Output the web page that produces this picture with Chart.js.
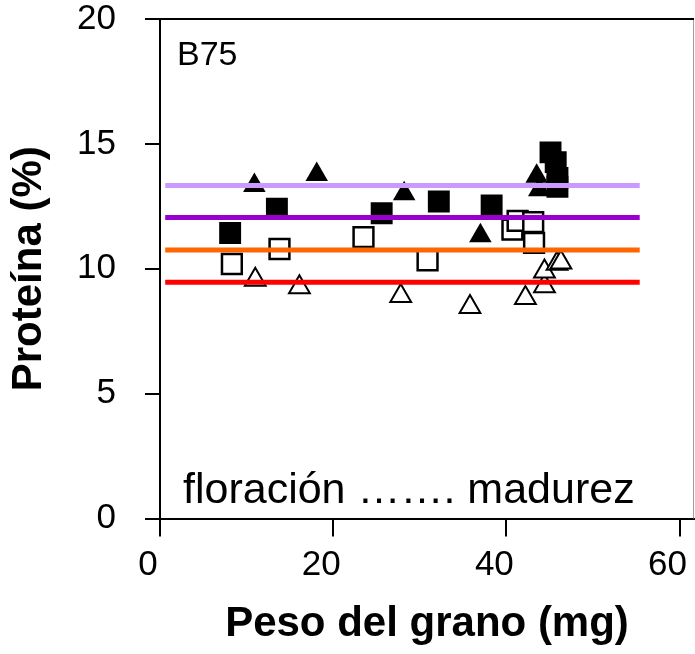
<!DOCTYPE html>
<html>
<head>
<meta charset="utf-8">
<script src="https://cdn.jsdelivr.net/npm/chart.js@4/dist/chart.umd.min.js"></script>
<style>
  html, body { margin: 0; padding: 0; background: #fff; overflow: hidden; }
  canvas { display: block; }
</style>
</head>
<body>
<canvas id="proteinChart" width="695" height="654"></canvas>
<script>
// mean protein levels (horizontal lines) and their x span
const lineLevels = [13.33, 12.05, 10.75, 9.46];
const lineColors = ["#cc99ff", "#9900cc", "#ff6600", "#ff0000"];
const lineSpan = [0.6, 55.4];

// filled squares
const filledSquareX = [8.1, 13.5, 25.6, 32.2, 38.3, 45.1, 45.7, 45.9, 45.9];
const filledSquareY = [11.43, 12.4, 12.22, 12.69, 12.53, 14.66, 14.27, 13.64, 13.28];

// filled triangles
const filledTriX = [10.9, 18.1, 28.2, 37.0, 43.5, 43.8];
const filledTriY = [13.33, 13.77, 13.0, 11.32, 13.7, 13.16];

// open squares
const openSquareX = [8.3, 13.8, 23.5, 30.9, 40.7, 41.3, 43.1, 43.2];
const openSquareY = [10.19, 10.79, 11.27, 10.34, 11.57, 11.92, 11.87, 11.04];

// open triangles
const openTriX = [11.0, 16.1, 27.8, 35.8, 42.2, 44.4, 44.4, 45.85, 46.3];
const openTriY = [9.56, 9.26, 8.91, 8.47, 8.83, 9.3, 9.89, 10.2, 10.25];

const xTicks = [0, 20, 40, 60];
const yTicks = [0, 5, 10, 15, 20];

const FONT = "'Liberation Sans', Arial, sans-serif";

function pts(xs, ys) {
    return xs.map((x, i) => ({ x: x, y: ys[i] }));
}

const lineSets = lineLevels.map((lv, i) => ({
    type: "line",
    data: [{ x: lineSpan[0], y: lv }, { x: lineSpan[1], y: lv }],
    borderColor: lineColors[i],
    borderWidth: 5,
    pointRadius: 0,
    fill: false,
}));

const frame = {
    id: "frame",
    afterDraw(chart) {
        const { ctx, chartArea: a } = chart;
        ctx.save();
        ctx.strokeStyle = "#a0a0a0";
        ctx.lineWidth = 1;
        ctx.beginPath();
        ctx.moveTo(a.right - 0.5, a.top);
        ctx.lineTo(a.right - 0.5, a.bottom);
        ctx.stroke();
        ctx.strokeStyle = "#000";
        ctx.lineWidth = 2;
        ctx.beginPath();
        ctx.moveTo(a.left, a.top);
        ctx.lineTo(a.right, a.top);
        ctx.stroke();

        ctx.fillStyle = "#000";
        ctx.textBaseline = "alphabetic";
        ctx.textAlign = "left";
        ctx.font = "34px " + FONT;
        ctx.fillText("B75", 177, 65);
        ctx.font = "43px " + FONT;
        ctx.fillText("floración ……. madurez", 183, 503);
        ctx.restore();
    },
};

const canvas = document.getElementById("proteinChart");

new Chart(canvas, {
    type: "scatter",
    data: {
        datasets: [
            ...lineSets,
            {
                data: pts(filledSquareX, filledSquareY),
                pointStyle: "rect",
                pointRadius: 15.5,
                backgroundColor: "#000",
                borderColor: "#000",
                borderWidth: 0,
            },
            {
                data: pts(filledTriX, filledTriY),
                pointStyle: "triangle",
                pointRadius: 13,
                backgroundColor: "#000",
                borderColor: "#000",
                borderWidth: 0,
            },
            {
                data: pts(openSquareX, openSquareY),
                pointStyle: "rect",
                pointRadius: 14,
                backgroundColor: "#fff",
                borderColor: "#000",
                borderWidth: 2.5,
            },
            {
                data: pts(openTriX, openTriY),
                pointStyle: "triangle",
                pointRadius: 12,
                backgroundColor: "#fff",
                borderColor: "#000",
                borderWidth: 2,
            },
        ],
    },
    options: {
        responsive: false,
        animation: false,
        events: [],
        layout: {
            autoPadding: false,
            padding: { top: 19, right: 1, left: 0, bottom: 0 },
        },
        plugins: {
            legend: { display: false },
            tooltip: { enabled: false },
        },
        scales: {
            x: {
                type: "linear",
                min: 0,
                max: 61.67,
                afterBuildTicks: (s) => {
                    s.ticks = xTicks.map((v) => ({ value: v }));
                },
                afterFit: (s) => {
                    s.height = 135.5;
                    s.paddingLeft = 0;
                    s.paddingRight = 0;
                },
                ticks: {
                    color: "#000",
                    font: { family: FONT, size: 35 },
                    padding: 8,
                    labelOffset: -12,
                    maxRotation: 0,
                },
                grid: {
                    drawOnChartArea: false,
                    color: "#000",
                    lineWidth: 2,
                    tickLength: 18,
                },
                border: { color: "#000", width: 2 },
                title: {
                    display: true,
                    text: "Peso del grano (mg)",
                    color: "#000",
                    font: { family: FONT, size: 42, weight: "bold" },
                    padding: { top: 0, bottom: 4 },
                },
            },
            y: {
                min: 0,
                max: 20,
                afterBuildTicks: (s) => {
                    s.ticks = yTicks.map((v) => ({ value: v }));
                },
                afterFit: (s) => {
                    s.width = 160;
                    s.paddingTop = 0;
                    s.paddingBottom = 0;
                },
                ticks: {
                    color: "#000",
                    font: { family: FONT, size: 35 },
                    padding: 29,
                },
                grid: {
                    drawOnChartArea: false,
                    color: "#000",
                    lineWidth: 2,
                    tickLength: 15,
                },
                border: { color: "#000", width: 2 },
                title: {
                    display: true,
                    text: "Proteína (%)",
                    color: "#000",
                    font: { family: FONT, size: 42, weight: "bold" },
                    padding: { top: 4, bottom: 0 },
                },
            },
        },
    },
    plugins: [frame],
});
</script>
</body>
</html>
